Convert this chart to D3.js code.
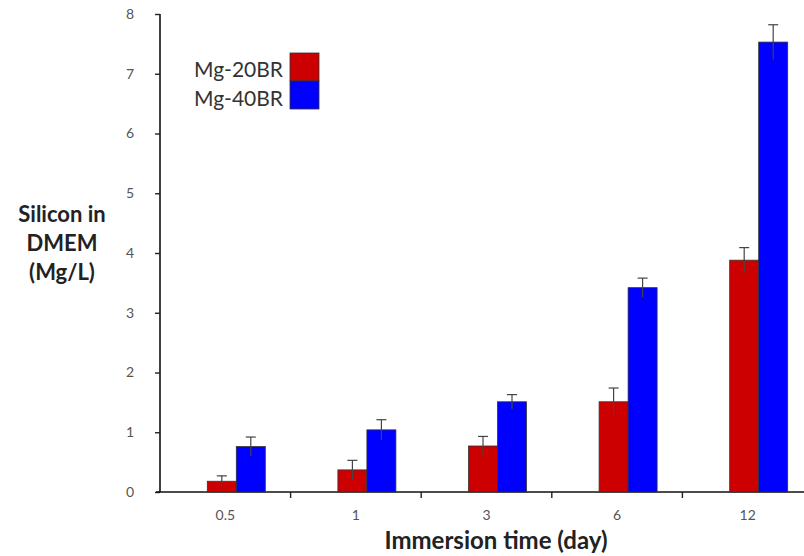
<!DOCTYPE html>
<html><head><meta charset="utf-8">
<script src="https://cdn.jsdelivr.net/npm/d3@7"></script>
<style>body{margin:0;background:#fff}svg{display:block}</style>
</head><body>
<svg id="c" width="804" height="556"></svg>
<script>
const categories = ["0.5", "1", "3", "6", "12"];
const seriesNames = ["Mg-20BR", "Mg-40BR"];
const mg20 = [0.18, 0.37, 0.77, 1.51, 3.88];
const mg20Err = [0.09, 0.16, 0.16, 0.23, 0.21];
const mg40 = [0.76, 1.04, 1.51, 3.42, 7.53];
const mg40Err = [0.16, 0.17, 0.12, 0.16, 0.29];
const yTicks = [0, 1, 2, 3, 4, 5, 6, 7, 8];
const colors = ["#CC0000", "#0000FF"];

const svg = d3.select("#c");
const x = d3.scaleBand().domain(categories).range([160, 813]).padding(0);
const y = d3.scaleLinear().domain([0, 8]).range([492, 14]);
const barW = 29, shift = 11;

const font = "Lato, 'Open Sans', sans-serif";

// y axis
const ya = svg.append("g").attr("transform", "translate(160,0)")
  .call(d3.axisLeft(y).tickValues(yTicks).tickSize(5).tickPadding(25).tickFormat(d3.format("d")));
ya.select(".domain").attr("stroke", "#111").attr("stroke-width", 1.6).attr("d", "M0," + y(8) + "V" + y(0));
ya.selectAll(".tick line").attr("stroke", "#222").attr("stroke-width", 1.4);
ya.selectAll(".tick text").attr("fill", "#555").style("font-family", font).style("font-size", "14px").attr("text-anchor", "middle");

// x axis
const xa = svg.append("g").attr("transform", "translate(0,492)");
xa.append("line").attr("x1", 156).attr("x2", 804).attr("stroke", "#111").attr("stroke-width", 1.6);
xa.selectAll(".sep").data(categories.slice(1)).join("line")
  .attr("x1", d => x(d)).attr("x2", d => x(d)).attr("y1", 0).attr("y2", 6)
  .attr("stroke", "#222").attr("stroke-width", 1.4);
xa.selectAll(".lab").data(categories).join("text")
  .attr("x", d => x(d) + x.bandwidth() / 2).attr("y", 28)
  .attr("text-anchor", "middle").attr("fill", "#555")
  .style("font-family", font).style("font-size", "14px").text(d => d);

// bars
const series = [mg20, mg40];
const errs = [mg20Err, mg40Err];
series.forEach((vals, si) => {
  const g = svg.append("g");
  const bx = (i) => x(categories[i]) + x.bandwidth() / 2 + shift - barW + si * barW;
  g.selectAll("rect").data(vals).join("rect")
    .attr("x", (d, i) => bx(i)).attr("width", barW)
    .attr("y", d => y(d)).attr("height", d => y(0) - y(d))
    .attr("fill", colors[si]).attr("stroke", "#333").attr("stroke-width", 0.8);
  const eg = g.selectAll(".err").data(vals).join("g");
  eg.append("line")
    .attr("x1", (d, i) => bx(i) + barW / 2).attr("x2", (d, i) => bx(i) + barW / 2)
    .attr("y1", (d, i) => y(d + errs[si][i])).attr("y2", (d, i) => y(Math.max(0, d - errs[si][i])))
    .attr("stroke", "#444").attr("stroke-width", 1.2);
  eg.append("line")
    .attr("x1", (d, i) => bx(i) + barW / 2 - 5).attr("x2", (d, i) => bx(i) + barW / 2 + 5)
    .attr("y1", (d, i) => y(d + errs[si][i])).attr("y2", (d, i) => y(d + errs[si][i]))
    .attr("stroke", "#444").attr("stroke-width", 1.2);
});

// legend
const lg = svg.append("g");
seriesNames.forEach((n, i) => {
  lg.append("rect").attr("x", 290).attr("y", 53 + i * 28).attr("width", 29).attr("height", 28)
    .attr("fill", colors[i]).attr("stroke", "#333").attr("stroke-width", 0.8);
  lg.append("text").attr("x", 283).attr("y", 77 + i * 29).attr("text-anchor", "end")
    .attr("fill", "#333").style("font-family", font).style("font-size", "21px").text(n);
});

// y title
const yt = svg.append("text").attr("text-anchor", "middle").attr("fill", "#222")
  .style("font-family", font).style("font-size", "22px").style("font-weight", "bold");
["Silicon in", "DMEM", "(Mg/L)"].forEach((t, i) => {
  yt.append("tspan").attr("x", 62).attr("y", 222 + i * 29).text(t);
});

// x title
svg.append("text").attr("x", 496).attr("y", 549).attr("text-anchor", "middle").attr("fill", "#222")
  .style("font-family", font).style("font-size", "24px").style("font-weight", "bold")
  .text("Immersion time (day)");
</script>
</body></html>
